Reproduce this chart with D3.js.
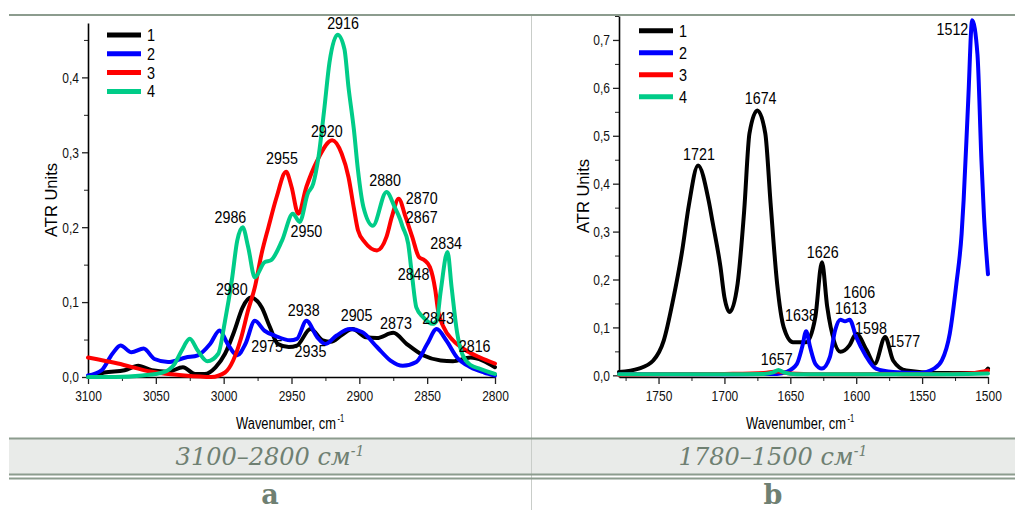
<!DOCTYPE html>
<html>
<head>
<meta charset="utf-8">
<title>ATR spectra</title>
<script src="https://d3js.org/d3.v7.min.js"></script>
<style>
  body { margin: 0; background: #fff; }
  svg { display: block; }
</style>
</head>
<body>
<div id="chart"></div>
<script>

// ---- data: panel a (3100-2800 cm-1), [wavenumber, ATR units] ----
var aSeries1 = [[3100,0.000],[3088,0.006],[3073,0.009],[3063,0.015],[3053,0.009],[3041,0.007],[3030,0.013],[3021,0.004],[3014,0.004],[3006,0.013],[2999,0.031],[2992,0.062],[2986,0.093],[2980,0.106],[2972,0.093],[2966,0.067],[2960,0.044],[2952,0.040],[2946,0.042],[2936,0.064],[2927,0.049],[2921,0.047],[2913,0.056],[2905,0.064],[2895,0.053],[2887,0.052],[2875,0.059],[2865,0.044],[2853,0.029],[2840,0.022],[2831,0.021],[2818,0.026],[2809,0.022],[2800,0.013]];
var aSeries2 = [[3100,0.002],[3090,0.009],[3082,0.031],[3076,0.042],[3068,0.033],[3059,0.038],[3051,0.024],[3041,0.020],[3028,0.026],[3019,0.029],[3010,0.044],[3003,0.062],[2997,0.044],[2990,0.029],[2984,0.044],[2977,0.075],[2970,0.062],[2962,0.055],[2951,0.049],[2946,0.051],[2939,0.075],[2931,0.053],[2925,0.044],[2917,0.055],[2907,0.064],[2898,0.060],[2887,0.040],[2877,0.022],[2868,0.015],[2858,0.020],[2850,0.044],[2843,0.064],[2836,0.049],[2828,0.026],[2818,0.013],[2808,0.006],[2800,0.002]];
var aSeries3 = [[3100,0.026],[3078,0.018],[3053,0.007],[3029,0.002],[3009,0.000],[2999,0.006],[2993,0.022],[2987,0.053],[2982,0.089],[2977,0.120],[2972,0.165],[2967,0.200],[2961,0.240],[2954,0.274],[2950,0.254],[2945,0.218],[2939,0.254],[2931,0.289],[2920,0.316],[2913,0.298],[2908,0.267],[2904,0.225],[2901,0.196],[2896,0.180],[2887,0.169],[2880,0.187],[2876,0.214],[2871,0.238],[2866,0.214],[2861,0.187],[2856,0.160],[2852,0.156],[2848,0.147],[2844,0.116],[2842,0.089],[2838,0.067],[2831,0.049],[2821,0.035],[2811,0.026],[2800,0.018]];
var aSeries4 = [[3100,0.000],[3080,0.000],[3060,0.002],[3045,0.006],[3036,0.018],[3031,0.035],[3025,0.051],[3019,0.035],[3012,0.021],[3004,0.031],[2999,0.075],[2994,0.129],[2990,0.182],[2986,0.200],[2982,0.174],[2977,0.133],[2970,0.153],[2965,0.156],[2957,0.182],[2949,0.218],[2944,0.207],[2938,0.245],[2934,0.258],[2930,0.295],[2926,0.355],[2922,0.420],[2916,0.457],[2911,0.438],[2908,0.387],[2904,0.330],[2901,0.276],[2897,0.227],[2890,0.202],[2880,0.247],[2874,0.227],[2870,0.211],[2868,0.200],[2864,0.178],[2861,0.133],[2858,0.093],[2853,0.080],[2846,0.071],[2843,0.075],[2840,0.115],[2835,0.167],[2832,0.120],[2828,0.060],[2824,0.030],[2818,0.016],[2811,0.011],[2800,0.004]];
// peak labels: [text, wavenumber at label centre, value at baseline]
var aPeaks = [["2916",2912,0.465],["2920",2924,0.321],["2955",2957,0.285],["2880",2881,0.255],["2870",2854,0.231],["2867",2854,0.206],["2986",2995,0.205],["2950",2939,0.187],["2834",2836,0.171],["2848",2860,0.129],["2980",2994,0.109],["2938",2941,0.082],["2905",2902,0.075],["2873",2873,0.064],["2843",2842,0.071],["2975",2968,0.033],["2935",2936,0.027],["2816",2815,0.033]];

// ---- data: panel b (1780-1500 cm-1) ----
var bSeries1 = [[1780,0.007],[1765,0.014],[1754,0.031],[1746,0.073],[1739,0.157],[1732,0.261],[1727,0.355],[1720,0.438],[1712,0.365],[1709,0.320],[1703,0.226],[1700,0.163],[1696,0.132],[1690,0.191],[1685,0.344],[1681,0.505],[1675,0.553],[1669,0.505],[1665,0.360],[1660,0.191],[1655,0.100],[1648,0.069],[1638,0.069],[1631,0.122],[1626,0.236],[1622,0.143],[1612,0.049],[1605,0.063],[1600,0.087],[1592,0.052],[1586,0.024],[1578,0.080],[1572,0.031],[1562,0.010],[1539,0.005],[1504,0.005],[1500,0.014]];
var bSeries2 = [[1780,0.002],[1700,0.002],[1660,0.003],[1653,0.007],[1645,0.024],[1641,0.059],[1638,0.092],[1635,0.059],[1631,0.024],[1626,0.014],[1620,0.038],[1616,0.094],[1612,0.116],[1608.5,0.113],[1605,0.116],[1600,0.080],[1593,0.042],[1585,0.014],[1572,0.007],[1552,0.005],[1541,0.014],[1535,0.031],[1529,0.087],[1524,0.191],[1520,0.296],[1518.5,0.365],[1515,0.574],[1512,0.741],[1508,0.670],[1505,0.450],[1503,0.330],[1500,0.211]];
var bSeries3 = [[1780,0.001],[1740,0.002],[1700,0.003],[1670,0.005],[1660,0.008],[1650,0.004],[1620,0.002],[1580,0.003],[1560,0.002],[1530,0.003],[1510,0.005],[1500,0.010]];
var bSeries4 = [[1780,0.002],[1700,0.002],[1670,0.003],[1663,0.006],[1659,0.011],[1655,0.006],[1645,0.002],[1600,0.002],[1550,0.002],[1500,0.004]];
var bPeaks = [["1512",1527,0.711],["1674",1672.5,0.567],["1721",1719.3,0.450],["1626",1625.4,0.245],["1606",1597.7,0.162],["1613",1604,0.127],["1638",1641.9,0.113],["1598",1588.8,0.087],["1577",1563.5,0.059],["1657",1660.3,0.021]];

var seriesNames = ["1", "2", "3", "4"];
var seriesColors = ["#000000", "#0000ff", "#ff0000", "#00cc88"];
var aXTicks = [3100, 3050, 3000, 2950, 2900, 2850, 2800];
var aYTicks = [0, 0.1, 0.2, 0.3, 0.4];
var bXTicks = [1750, 1700, 1650, 1600, 1550, 1500];
var bYTicks = [0, 0.1, 0.2, 0.3, 0.4, 0.5, 0.6, 0.7];
var captions = ["3100–2800 см", "1780–1500 см"];
var panelLetters = ["a", "b"];

var W = 1015, H = 510;
var sans = "'Liberation Sans', Arial, sans-serif";
var rule = "#8c9c8e";
var greyText = "#6f8072";

var svg = d3.select("#chart").append("svg")
  .attr("width", W).attr("height", H);

svg.append("rect").attr("width", W).attr("height", H).attr("fill", "#fff");

// squeeze text horizontally, the original figure is condensed
function squash(sel, k) {
  sel.each(function () {
    var L = this.getComputedTextLength();
    d3.select(this).attr("textLength", L * k).attr("lengthAdjust", "spacingAndGlyphs");
  });
}

// ---- table frame ----
svg.append("rect").attr("x", 9).attr("y", 439).attr("width", W - 9).attr("height", 35).attr("fill", "#e9ebe9");
svg.append("line").attr("x1", 531.5).attr("x2", 531.5).attr("y1", 16).attr("y2", H)
  .attr("stroke", "#c9cdc9").attr("stroke-width", 1);
[15, 438.5, 474.5, 478.5].forEach(function (yy) {
  svg.append("line").attr("x1", 9).attr("x2", W).attr("y1", yy).attr("y2", yy)
    .attr("stroke", rule).attr("stroke-width", yy == 15 ? 2.2 : 2);
});

// ---- panels ----
function drawPanel(p) {
  var g = svg.append("g");
  var x = d3.scaleLinear().domain(p.xDomain).range(p.xRange);
  var y = d3.scaleLinear().domain(p.yDomain).range(p.yRange);
  var comma = function (d) { return d3.format(".1f")(d).replace(".", ","); };

  // minor ticks
  g.append("g").attr("transform", "translate(0," + p.yRange[0] + ")")
    .call(d3.axisBottom(x).tickValues(p.xMinor).tickSize(4).tickFormat(""))
    .call(function (a) { a.select(".domain").remove(); });
  g.append("g").attr("transform", "translate(" + p.xRange[0] + ",0)")
    .call(d3.axisLeft(y).tickValues(p.yMinor).tickSize(4).tickFormat(""))
    .call(function (a) { a.select(".domain").remove(); });

  var xa = g.append("g").attr("transform", "translate(0," + p.yRange[0] + ")")
    .call(d3.axisBottom(x).tickValues(p.xTicks).tickSizeInner(7).tickSizeOuter(0).tickPadding(6).tickFormat(d3.format("d")));
  var ya = g.append("g").attr("transform", "translate(" + p.xRange[0] + ",0)")
    .call(d3.axisLeft(y).tickValues(p.yTicks).tickSizeInner(6).tickSizeOuter(0).tickPadding(3).tickFormat(comma));
  [xa, ya].forEach(function (a) {
    a.select(".domain").attr("stroke-width", 1.6);
    a.selectAll(".tick line").attr("stroke-width", 1.3);
    a.selectAll("text").attr("font-family", sans).attr("font-size", 15).attr("fill", "#111").call(squash, 0.8);
  });
  g.selectAll(".tick line").attr("stroke", "#222");

  // axis titles (x title condensed with a group scale)
  var tg = g.append("g").attr("transform", "translate(" + p.xTitle[0] + "," + p.xTitle[1] + ") scale(0.76,1)");
  var xt = tg.append("text").attr("font-family", sans).attr("font-size", 17).attr("fill", "#000")
    .text("Wavenumber, cm");
  var L = xt.node().getComputedTextLength();
  xt.attr("x", -L / 2 - 4);
  tg.append("text").attr("x", L / 2 - 2).attr("y", -7)
    .attr("font-family", sans).attr("font-size", 10).attr("fill", "#000").text("-1");
  g.append("text").attr("transform", "translate(" + p.yTitle[0] + "," + p.yTitle[1] + ") rotate(-90)")
    .attr("text-anchor", "middle").attr("font-family", sans).attr("font-size", 16.5).attr("fill", "#000")
    .text("ATR Units");

  // curves
  var line = d3.line()
    .x(function (d) { return x(d[0]); })
    .y(function (d) { return y(d[1]); })
    .curve(d3.curveMonotoneX);
  p.series.forEach(function (s, i) {
    g.append("path").datum(s)
      .attr("d", line)
      .attr("fill", "none")
      .attr("stroke", seriesColors[i])
      .attr("stroke-width", 4)
      .attr("stroke-linejoin", "round")
      .attr("stroke-linecap", "round");
  });

  // peak labels
  g.selectAll(".peak").data(p.peaks).enter().append("text")
    .attr("x", function (d) { return x(d[1]); })
    .attr("y", function (d) { return y(d[2]); })
    .attr("text-anchor", "middle")
    .attr("font-family", sans).attr("font-size", 17).attr("fill", "#000")
    .text(function (d) { return d[0]; })
    .call(squash, 0.84);

  // legend
  var lg = g.append("g").attr("transform", "translate(" + p.legend[0] + "," + p.legend[1] + ")");
  seriesNames.forEach(function (n, i) {
    var yy = i * p.legend[2];
    lg.append("line").attr("x1", 0).attr("x2", 34).attr("y1", yy).attr("y2", yy)
      .attr("stroke", seriesColors[i]).attr("stroke-width", 5);
    lg.append("text").attr("x", 40).attr("y", yy + 6).attr("font-family", sans).attr("font-size", 17)
      .text(n).call(squash, 0.85);
  });
}

drawPanel({
  xDomain: [3100, 2800], xRange: [88, 495],
  yDomain: [0, 0.4726], yRange: [377, 23],
  xTicks: aXTicks, xMinor: [3075, 3025, 2975, 2925, 2875, 2825],
  yTicks: aYTicks, yMinor: [0.05, 0.15, 0.25, 0.35, 0.45],
  series: [aSeries1, aSeries2, aSeries3, aSeries4],
  peaks: aPeaks,
  legend: [107, 35, 18.8],
  xTitle: [289, 429], yTitle: [57, 200]
});

drawPanel({
  xDomain: [1780, 1500], xRange: [619, 988],
  yDomain: [-0.0035, 0.75], yRange: [377, 16],
  xTicks: bXTicks, xMinor: [1775, 1725, 1675, 1625, 1575, 1525],
  yTicks: bYTicks, yMinor: [0.05, 0.15, 0.25, 0.35, 0.45, 0.55, 0.65, 0.75],
  series: [bSeries1, bSeries2, bSeries3, bSeries4],
  peaks: bPeaks,
  legend: [639, 30.7, 22],
  xTitle: [799, 429], yTitle: [589, 196]
});

// ---- captions ----
[270, 773].forEach(function (cx, i) {
  var t = svg.append("text").attr("x", cx).attr("y", 465).attr("text-anchor", "middle")
    .attr("font-family", "'DejaVu Serif', 'Liberation Serif', serif").attr("font-style", "italic")
    .attr("font-size", 24).attr("fill", greyText);
  t.append("tspan").text(captions[i]);
  t.append("tspan").attr("dy", -9).attr("font-size", 14).text("-1");
  svg.append("text").attr("x", cx).attr("y", 504).attr("text-anchor", "middle")
    .attr("font-family", "'DejaVu Serif', 'Liberation Serif', serif").attr("font-weight", "bold")
    .attr("font-size", 27).attr("fill", greyText).text(panelLetters[i]);
});

</script>
</body>
</html>
